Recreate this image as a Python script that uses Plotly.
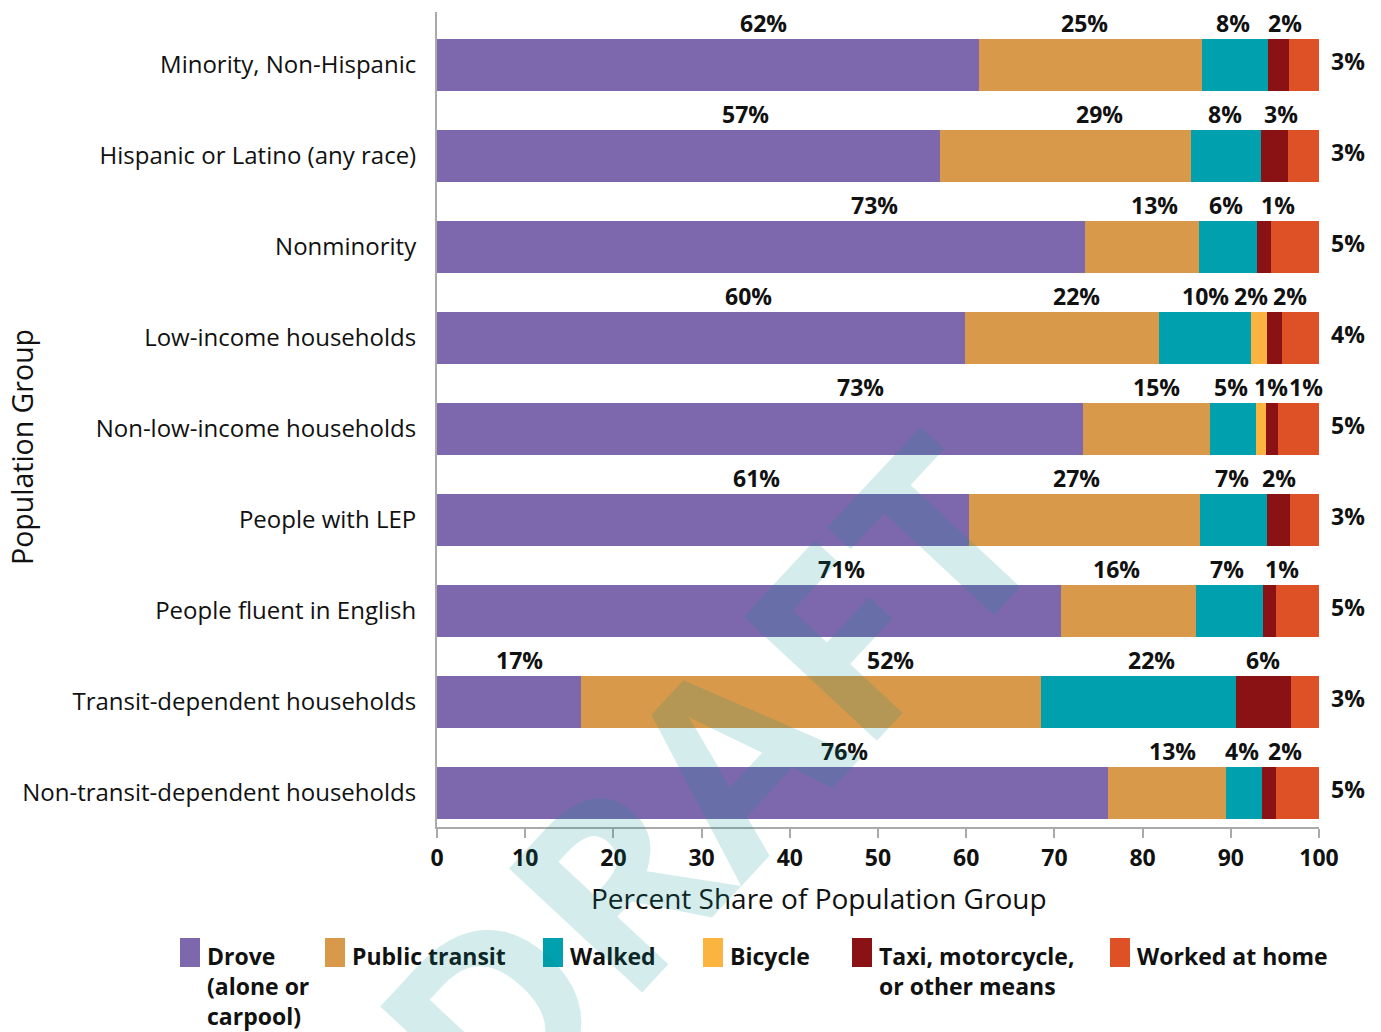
import plotly.graph_objects as go

# ---------------- data ----------------
categories = [
    "Minority, Non-Hispanic",
    "Hispanic or Latino (any race)",
    "Nonminority",
    "Low-income households",
    "Non-low-income households",
    "People with LEP",
    "People fluent in English",
    "Transit-dependent households",
    "Non-transit-dependent households",
]

series_names = ["Drove (alone or carpool)", "Public transit", "Walked", "Bicycle",
                "Taxi, motorcycle, or other means", "Worked at home"]
legend_labels = ["Drove<br>(alone or<br>carpool)", "Public transit", "Walked", "Bicycle",
                 "Taxi, motorcycle,<br>or other means", "Worked at home"]

drove = [61.5, 57.0, 73.5, 59.9, 73.2, 60.3, 70.7, 16.3, 76.1]
transit = [25.2, 28.5, 12.9, 22.0, 14.4, 26.2, 15.3, 52.2, 13.4]
walked = [7.5, 7.9, 6.6, 10.4, 5.3, 7.6, 7.7, 22.1, 4.0]
bicycle = [0, 0, 0, 1.8, 1.1, 0, 0, 0, 0]
taxi = [2.4, 3.1, 1.6, 1.7, 1.3, 2.6, 1.4, 6.2, 1.6]
home = [3.4, 3.5, 5.4, 4.2, 4.7, 3.3, 4.9, 3.2, 4.9]

drove_lbl = ["62%", "57%", "73%", "60%", "73%", "61%", "71%", "17%", "76%"]
transit_lbl = ["25%", "29%", "13%", "22%", "15%", "27%", "16%", "52%", "13%"]
walked_lbl = ["8%", "8%", "6%", "10%", "5%", "7%", "7%", "22%", "4%"]
bicycle_lbl = [None, None, None, "2%", "1%", None, None, None, None]
taxi_lbl = ["2%", "3%", "1%", "2%", "1%", "2%", "1%", "6%", "2%"]
home_lbl = ["3%", "3%", "5%", "4%", "5%", "3%", "5%", "3%", "5%"]

x_ticks = [0, 10, 20, 30, 40, 50, 60, 70, 80, 90, 100]

# ---------------- layout / style ----------------
colors = ["#7e68ad", "#d9994a", "#00a0ae", "#fbb43f", "#8a1114", "#de5127"]

# label anchor positions (x in axis units) for the labels drawn above the bars
drove_lbl_x = [37.0, 35.0, 49.6, 35.3, 48.0, 36.2, 45.9, 9.3, 46.2]
transit_lbl_x = [73.4, 75.1, 81.4, 72.5, 81.6, 72.5, 77.0, 51.4, 83.4]
walked_lbl_x = [90.3, 89.3, 89.5, 87.1, 90.0, 90.1, 89.6, 81.0, 91.3]
bicycle_lbl_x = [None, None, None, 92.3, 94.6, None, None, None, None]
taxi_lbl_x = [96.1, 95.7, 95.3, 96.7, 98.5, 95.5, 95.8, 93.7, 96.1]

FONT = "Open Sans"
TXT = "#111111"
AXIS_GRAY = "#aaaaaa"

values = [drove, transit, walked, bicycle, taxi, home]

fig = go.Figure()
for name, vals, col in zip(series_names, values, colors):
    fig.add_trace(go.Bar(
        y=categories, x=vals, name=name, orientation="h",
        marker=dict(color=col, line=dict(width=0)),
        showlegend=False, hoverinfo="x+y+name",
    ))

annotations = []
above = [(drove_lbl, drove_lbl_x), (transit_lbl, transit_lbl_x), (walked_lbl, walked_lbl_x),
         (bicycle_lbl, bicycle_lbl_x), (taxi_lbl, taxi_lbl_x)]
for lbls, xs in above:
    for cat, t, xv in zip(categories, lbls, xs):
        if t is None:
            continue
        annotations.append(dict(
            x=xv, y=cat, xref="x", yref="y", text=t, showarrow=False,
            yshift=42, font=dict(family=FONT, size=23, color=TXT, weight="bold"),
        ))
for cat, t in zip(categories, home_lbl):
    annotations.append(dict(
        x=100, y=cat, xref="x", yref="y", text=t, showarrow=False,
        xanchor="left", xshift=10, yshift=4,
        font=dict(family=FONT, size=23, color=TXT, weight="bold"),
    ))

# plot area in pixels
L, R, T, B = 437, 1319, 12, 827
W_PLOT, H_PLOT = R - L, B - T


def px_x(p):
    return (p - L) / W_PLOT


def px_y(p):
    return (B - p) / H_PLOT


# axis titles
annotations.append(dict(
    x=px_x(819), y=px_y(898), xref="paper", yref="paper", text="Percent Share of Population Group",
    showarrow=False, xanchor="center", yanchor="middle",
    font=dict(family=FONT, size=28, color=TXT),
))
annotations.append(dict(
    x=px_x(22), y=px_y(447), xref="paper", yref="paper", text="Population Group",
    showarrow=False, xanchor="center", yanchor="middle", textangle=-90,
    font=dict(family=FONT, size=28.5, color=TXT),
))

# manual legend
shapes = []
leg_swatch_x = [180, 325, 543, 703, 852, 1110]
for lx, col, lab in zip(leg_swatch_x, colors, legend_labels):
    shapes.append(dict(type="rect", xref="paper", yref="paper",
                       x0=px_x(lx), x1=px_x(lx + 20), y0=px_y(967), y1=px_y(938),
                       fillcolor=col, line=dict(width=0)))
    annotations.append(dict(
        x=px_x(lx + 25), y=px_y(938), xref="paper", yref="paper", text=lab,
        showarrow=False, xanchor="left", yanchor="top", align="left",
        font=dict(family=FONT, size=23, color=TXT, weight="bold"),
    ))

# watermark
annotations.append(dict(
    x=px_x(705), y=px_y(780), xref="paper", yref="paper", text="DRAFT",
    showarrow=False, xanchor="center", yanchor="middle", textangle=-47,
    font=dict(family=FONT, size=255, color="rgba(0,143,143,0.17)", weight="bold"),
))

fig.update_layout(
    barmode="stack",
    bargap=0.43,
    width=1381, height=1032,
    margin=dict(l=L, r=1381 - R, t=T, b=1032 - B, pad=0),
    plot_bgcolor="white", paper_bgcolor="white",
    font=dict(family=FONT, color=TXT),
    showlegend=False,
    annotations=annotations,
    shapes=shapes,
)
fig.update_xaxes(
    range=[0, 100], tickvals=x_ticks, ticktext=[str(v) for v in x_ticks],
    showgrid=False, zeroline=False, showline=True, linecolor=AXIS_GRAY, linewidth=2,
    ticks="outside", ticklen=9, tickwidth=2, tickcolor=AXIS_GRAY,
    tickfont=dict(family=FONT, size=23, color=TXT, weight="bold"),
    fixedrange=True,
)
fig.update_yaxes(
    range=[8.374, -0.58], showgrid=False, zeroline=False,
    showline=True, linecolor=AXIS_GRAY, linewidth=2, ticks="",
    ticklabelstandoff=14,
    tickfont=dict(family=FONT, size=24, color=TXT),
    fixedrange=True,
)

fig.write_html(
    "out.html",
    config={"displayModeBar": False},
    post_script="document.body.style.margin='0';document.body.style.overflow='hidden';",
)
